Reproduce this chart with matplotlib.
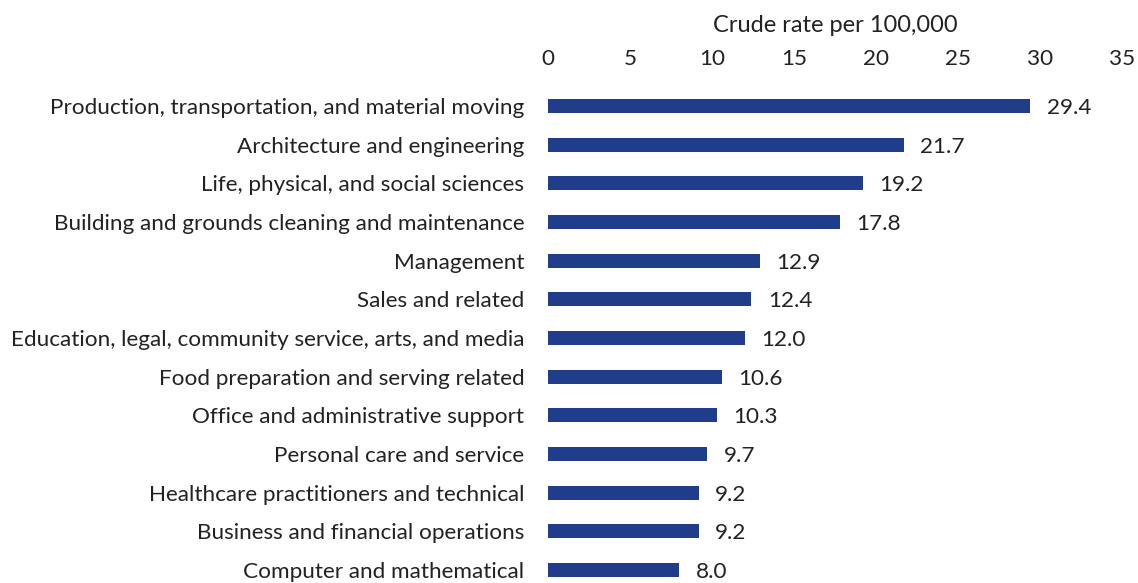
import matplotlib.pyplot as plt

plt.rcParams['font.family'] = ['Lato', 'DejaVu Sans']

categories = [
    'Production, transportation, and material moving',
    'Architecture and engineering',
    'Life, physical, and social sciences',
    'Building and grounds cleaning and maintenance',
    'Management',
    'Sales and related',
    'Education, legal, community service, arts, and media',
    'Food preparation and serving related',
    'Office and administrative support',
    'Personal care and service',
    'Healthcare practitioners and technical',
    'Business and financial operations',
    'Computer and mathematical',
]
rates = [29.4, 21.7, 19.2, 17.8, 12.9, 12.4, 12.0, 10.6, 10.3, 9.7, 9.2, 9.2, 8.0]
xticks = [0, 5, 10, 15, 20, 25, 30, 35]

fs = 16.2
fig = plt.figure(figsize=(11.38, 5.83), dpi=100)
ax = fig.add_axes([548 / 1138, 0, (1122 - 548) / 1138, 1 - 80 / 583])

pos = list(range(len(categories)))
ax.barh(pos, rates, height=0.37, color='#1f3d8a')
for p, v in zip(pos, rates):
    ax.text(v + 1.0, p + 0.05, f'{v:.1f}', va='center', ha='left', fontsize=fs, color='#222222')

ax.set_xlim(0, 35)
ax.set_ylim(12 + 13 / 38.67, -26 / 38.67)
ax.set_yticks(pos)
ax.set_yticklabels(categories, fontsize=fs, color='#222222')
ax.set_xticks(xticks)
ax.set_xticklabels([str(t) for t in xticks], fontsize=fs, color='#222222')
ax.xaxis.tick_top()
ax.xaxis.set_label_position('top')
ax.set_xlabel('Crude rate per 100,000', fontsize=17, color='#222222', labelpad=12)
ax.tick_params(length=0, axis='y', pad=17)
ax.tick_params(length=0, axis='x', pad=8)
for s in ax.spines.values():
    s.set_visible(False)

fig.savefig('out.png', dpi=100)
